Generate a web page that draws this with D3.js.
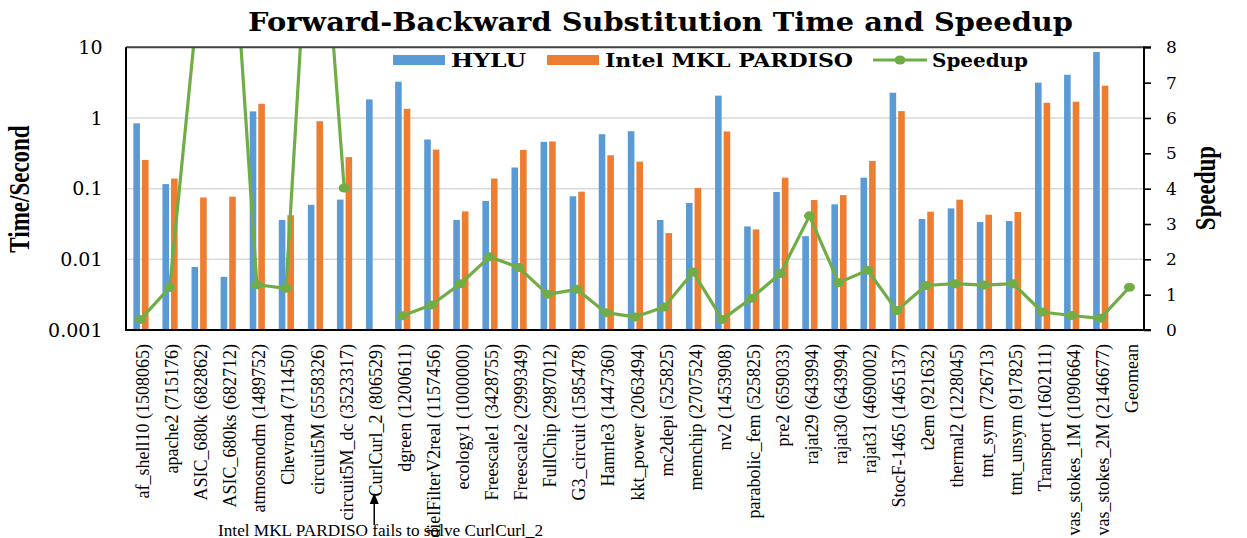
<!DOCTYPE html>
<html><head><meta charset="utf-8">
<script src="https://cdn.jsdelivr.net/npm/d3@7"></script>
<style>body{margin:0;background:#fff}svg{display:block}</style>
</head><body>
<svg id="c" width="1247" height="538"></svg>
<script>
const categories = ["af_shell10 (1508065)","apache2 (715176)","ASIC_680k (682862)","ASIC_680ks (682712)","atmosmodm (1489752)","Chevron4 (711450)","circuit5M (5558326)","circuit5M_dc (3523317)","CurlCurl_2 (806529)","dgreen (1200611)","dielFilterV2real (1157456)","ecology1 (1000000)","Freescale1 (3428755)","Freescale2 (2999349)","FullChip (2987012)","G3_circuit (1585478)","Hamrle3 (1447360)","kkt_power (2063494)","mc2depi (525825)","memchip (2707524)","nv2 (1453908)","parabolic_fem (525825)","pre2 (659033)","rajat29 (643994)","rajat30 (643994)","rajat31 (4690002)","StocF-1465 (1465137)","t2em (921632)","thermal2 (1228045)","tmt_sym (726713)","tmt_unsym (917825)","Transport (1602111)","vas_stokes_1M (1090664)","vas_stokes_2M (2146677)","Geomean"];
const hylu = [0.84,0.116,0.0078,0.00565,1.24,0.036,0.059,0.070,1.83,3.26,0.496,0.036,0.067,0.199,0.459,0.078,0.589,0.65,0.036,0.0627,2.07,0.0292,0.0898,0.0213,0.060,0.143,2.28,0.0372,0.0526,0.0337,0.0348,3.16,4.09,8.57,null];
const mkl = [0.255,0.139,0.075,0.077,1.59,0.042,0.90,0.28,null,1.35,0.357,0.0476,0.139,0.354,0.465,0.0906,0.297,0.241,0.0235,0.102,0.644,0.0265,0.143,0.069,0.081,0.247,1.25,0.0472,0.0698,0.0428,0.0467,1.64,1.70,2.86,null];
const speedup = [0.30,1.20,9.5,13.6,1.28,1.18,15.0,4.02,null,0.40,0.71,1.31,2.07,1.77,1.01,1.15,0.49,0.37,0.65,1.64,0.30,0.90,1.60,3.23,1.34,1.69,0.55,1.26,1.31,1.27,1.31,0.51,0.41,0.33,1.21];
const timeTicks = [0.001,0.01,0.1,1,10];
const timeTickLabels = ["0.001","0.01","0.1","1","10"];
const speedTicks = [0,1,2,3,4,5,6,7,8];

const L=126, R=1144, T=47.3, B=330;
const C_BLUE="#5B9BD5", C_ORANGE="#ED7D31", C_GREEN="#70AD47";
const svg = d3.select("#c");
const x = d3.scaleBand().domain(categories).range([L,R]).padding(0);
const y = d3.scaleLog().domain([0.001,10]).range([B,T]);
const y2 = d3.scaleLinear().domain([0,8]).range([B,T]);
const cx = c => x(c)+x.bandwidth()/2;

svg.append("defs").append("clipPath").attr("id","plot").append("rect")
  .attr("x",L).attr("y",T).attr("width",R-L).attr("height",B-T);

// gridlines
svg.append("g").selectAll("line").data(timeTicks.filter(v=>v>0.001&&v<10)).join("line")
  .attr("x1",L).attr("x2",R).attr("y1",d=>y(d)).attr("y2",d=>y(d))
  .attr("stroke","#D9D9D9").attr("stroke-width",1.5);

// bars
const bw=6.6;
svg.append("g").selectAll("rect").data(categories.map((c,i)=>({c,v:hylu[i]})).filter(d=>d.v!=null)).join("rect")
  .attr("x",d=>cx(d.c)-7.2).attr("width",bw).attr("y",d=>y(d.v)).attr("height",d=>B-y(d.v)).attr("fill",C_BLUE);
svg.append("g").selectAll("rect").data(categories.map((c,i)=>({c,v:mkl[i]})).filter(d=>d.v!=null)).join("rect")
  .attr("x",d=>cx(d.c)+1.4).attr("width",bw).attr("y",d=>y(d.v)).attr("height",d=>B-y(d.v)).attr("fill",C_ORANGE);

// speedup line
const sd = categories.map((c,i)=>({c,v:speedup[i]}));
const line = d3.line().defined(d=>d.v!=null).x(d=>cx(d.c)).y(d=>y2(d.v));
const gl = svg.append("g").attr("clip-path","url(#plot)");
gl.append("path").datum(sd).attr("d",line).attr("fill","none").attr("stroke",C_GREEN).attr("stroke-width",3.2).attr("stroke-linejoin","round");
gl.selectAll("ellipse").data(sd.filter(d=>d.v!=null)).join("ellipse")
  .attr("cx",d=>cx(d.c)).attr("cy",d=>y2(d.v)).attr("rx",5.5).attr("ry",4.5).attr("fill",C_GREEN);

// frame
svg.append("line").attr("x1",L).attr("x2",R).attr("y1",T).attr("y2",T).attr("stroke","#404040").attr("stroke-width",2);
svg.append("line").attr("x1",L).attr("x2",L).attr("y1",T).attr("y2",B).attr("stroke","#000").attr("stroke-width",2);
svg.append("line").attr("x1",L-1).attr("x2",R+1).attr("y1",B).attr("y2",B).attr("stroke","#000").attr("stroke-width",2.2);

// right axis
const ra = svg.append("g").attr("transform",`translate(${R},0)`)
  .call(d3.axisRight(y2).tickValues(speedTicks).tickSize(7).tickFormat(d3.format("d")));
ra.select(".domain").attr("stroke","#000").attr("stroke-width",2).attr("d",`M7,${T}H0V${B}H7`);
ra.selectAll(".tick line").attr("stroke","#000").attr("stroke-width",1.6);
ra.selectAll(".tick text").attr("x",22).attr("font-family","'DejaVu Serif'").attr("font-size",17).attr("fill","#000");

// left axis labels
const la = svg.append("g").attr("transform",`translate(${L},0)`)
  .call(d3.axisLeft(y).tickValues(timeTicks).tickSize(0).tickFormat((d,i)=>timeTickLabels[i]));
la.select(".domain").remove();
la.selectAll(".tick text").attr("x",-23.5).attr("font-family","'DejaVu Serif'").attr("font-size",19).attr("fill","#000");

// x labels
svg.append("g").selectAll("text").data(categories).join("text")
  .attr("transform",d=>`translate(${cx(d)+8.5},344) rotate(-90)`)
  .attr("text-anchor","end").attr("font-family","'Liberation Serif'").attr("font-size",18).attr("fill","#000")
  .text(d=>d);

// axis titles
svg.append("g").attr("transform","translate(29,189) scale(1.25,1)")
  .append("text").attr("transform","rotate(-90)").attr("text-anchor","middle")
  .attr("font-family","'Liberation Serif'").attr("font-weight","bold").attr("font-size",23).text("Time/Second");
svg.append("g").attr("transform","translate(1215,188) scale(1.25,1)")
  .append("text").attr("transform","rotate(-90)").attr("text-anchor","middle")
  .attr("font-family","'Liberation Serif'").attr("font-weight","bold").attr("font-size",23).text("Speedup");

// title
svg.append("text").attr("x",248).attr("y",31).attr("textLength",825).attr("lengthAdjust","spacingAndGlyphs")
  .attr("font-family","'DejaVu Serif'").attr("font-weight","bold").attr("font-size",26).text("Forward-Backward Substitution Time and Speedup");

// legend
const lg = svg.append("g").attr("font-family","'DejaVu Serif'").attr("font-weight","bold").attr("font-size",18);
lg.append("rect").attr("x",393).attr("y",55).attr("width",52).attr("height",10).attr("fill",C_BLUE);
lg.append("text").attr("x",451).attr("y",66.5).attr("textLength",75).attr("lengthAdjust","spacingAndGlyphs").text("HYLU");
lg.append("rect").attr("x",547).attr("y",55).attr("width",52).attr("height",10).attr("fill",C_ORANGE);
lg.append("text").attr("x",605).attr("y",66.5).attr("textLength",248).attr("lengthAdjust","spacingAndGlyphs").text("Intel MKL PARDISO");
lg.append("line").attr("x1",873).attr("x2",927).attr("y1",60).attr("y2",60).attr("stroke",C_GREEN).attr("stroke-width",3.2);
lg.append("ellipse").attr("cx",900).attr("cy",60).attr("rx",5.5).attr("ry",4.5).attr("fill",C_GREEN);
lg.append("text").attr("x",932).attr("y",66.5).attr("textLength",96).attr("lengthAdjust","spacingAndGlyphs").text("Speedup");

// annotation
const ax = cx("CurlCurl_2 (806529)")+1;
svg.append("line").attr("x1",ax).attr("x2",ax).attr("y1",525).attr("y2",503).attr("stroke","#000").attr("stroke-width",1.5);
svg.append("path").attr("d",`M${ax},493L${ax-4.5},504L${ax+4.5},504Z`).attr("fill","#000");
svg.append("text").attr("x",218).attr("y",535.5).attr("textLength",325).attr("lengthAdjust","spacingAndGlyphs")
  .attr("font-family","'Liberation Serif'").attr("font-size",16.5).text("Intel MKL PARDISO fails to solve CurlCurl_2");
</script>
</body></html>
